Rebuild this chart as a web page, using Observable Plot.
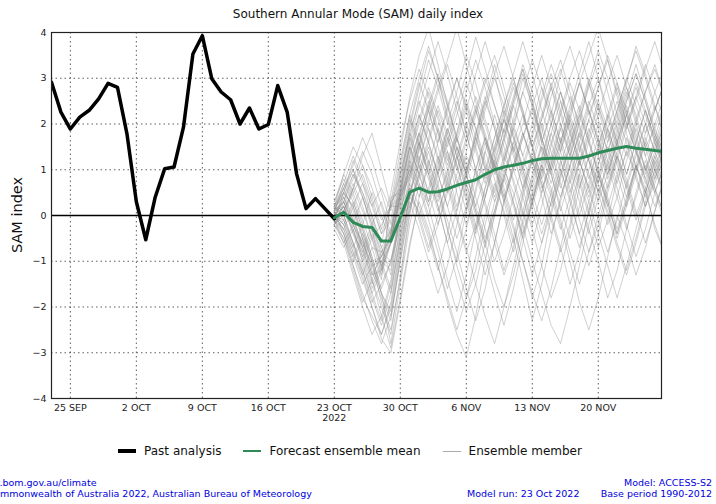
<!DOCTYPE html>
<html>
<head>
<meta charset="utf-8">
<script src="https://cdn.jsdelivr.net/npm/d3@7"></script>
<script src="https://cdn.jsdelivr.net/npm/@observablehq/plot@0.6"></script>
<style>
  body { margin:0; width:716px; height:504px; position:relative; background:#fff; font-family:"DejaVu Sans", sans-serif; overflow:hidden; }
  #title { position:absolute; top:7px; left:0; width:716px; text-align:center; font-size:12px; color:#111; }
  #chart { position:absolute; top:24px; left:0; }
  #ylabel { position:absolute; left:17px; top:215px; transform:translate(-50%,-50%) rotate(-90deg); font-size:14.5px; white-space:nowrap; color:#111; }
  #legend { position:absolute; top:444px; left:0; width:700px; display:flex; justify-content:center; align-items:center; font-size:12px; color:#111; }
  .item { display:flex; align-items:center; margin:0 11px; }
  .sw { display:inline-block; width:18px; margin-right:8px; }
  .foot { position:absolute; font-size:9.5px; color:#0000dd; white-space:nowrap; line-height:11px; }
</style>
</head>
<body>
<div id="title">Southern Annular Mode (SAM) daily index</div>
<div id="chart"></div>
<div id="ylabel">SAM index</div>
<div id="legend"></div>
<div class="foot" style="left:-23px; top:477px;">www.bom.gov.au/climate</div>
<div class="foot" style="left:-25px; top:488px;">© Commonwealth of Australia 2022, Australian Bureau of Meteorology</div>
<div class="foot" style="left:467px; top:488px;">Model run: 23 Oct 2022</div>
<div class="foot" style="right:4px; top:477px; text-align:right;">Model: ACCESS-S2</div>
<div class="foot" style="right:4px; top:488px; text-align:right;">Base period 1990-2012</div>
<script>
// ---- data ----
const pastStart = "2022-09-23";
const pastValues = [2.91, 2.26, 1.89, 2.15, 2.30, 2.55, 2.89, 2.80, 1.79, 0.30, -0.53, 0.40, 1.02, 1.06, 1.93, 3.53, 3.93, 2.99, 2.70, 2.53, 2.00, 2.35, 1.89, 1.99, 2.84, 2.26, 0.91, 0.15, 0.37, 0.15, -0.07];

const forecastStart = "2022-10-23";
const meanValues = [-0.05, 0.07, -0.15, -0.24, -0.26, -0.56, -0.56, -0.04, 0.51, 0.60, 0.51, 0.52, 0.58, 0.66, 0.72, 0.78, 0.90, 1.00, 1.06, 1.10, 1.14, 1.20, 1.24, 1.25, 1.25, 1.25, 1.25, 1.30, 1.37, 1.42, 1.47, 1.51, 1.47, 1.45, 1.42, 1.40];

const members = [
  [0.1,0.5,0.2,-0.4,-1.0,-0.9,-0.5,0.3,1.2,1.8,1.1,0.4,0.9,1.7,2.4,1.9,1.0,0.3,0.8,1.6,2.2,1.5,0.6,1.1,1.9,2.6,2.0,1.2,0.7,1.4,2.1,2.8,2.2,1.5,1.9,2.4],
  [-0.2,-0.5,-1.1,-1.8,-2.2,-2.6,-1.9,-0.6,0.4,0.1,-0.5,-1.2,-0.4,0.6,1.3,0.9,0.2,-0.6,-1.3,-0.7,0.4,1.2,0.7,-0.1,-0.8,-0.2,0.9,1.6,1.0,0.3,-0.5,0.2,1.1,0.6,-0.3,-0.8],
  [0.2,0.9,1.5,1.1,0.4,-0.3,0.5,1.6,2.5,3.2,2.6,1.9,1.2,1.8,2.7,3.4,2.8,2.0,1.3,2.1,3.0,2.4,1.6,2.2,3.1,3.7,3.0,2.2,2.8,3.5,2.9,2.0,2.6,3.3,2.7,2.1],
  [0.0,-0.3,-0.9,-1.5,-1.1,-1.0,-1.2,0.0,0.2,0.8,1.4,0.7,-0.3,-1.1,-1.8,-1.2,-0.2,0.6,1.3,0.8,0.1,-0.6,0.2,1.1,1.7,1.0,0.3,-0.4,0.4,1.2,0.6,-0.2,-0.9,-0.3,0.5,1.1],
  [-0.1,0.2,-0.4,-0.8,-0.3,-1.2,0.3,0.6,1.9,2.8,3.6,3.0,2.1,1.4,0.8,1.5,2.3,3.0,2.4,1.7,1.1,1.8,2.6,3.3,2.7,1.9,1.2,0.6,1.3,2.1,2.8,2.2,1.4,0.9,1.6,2.2],
  [0.3,0.8,0.4,-0.2,-0.9,-1.7,-2.8,-1.5,-0.2,0.7,0.2,-0.6,-1.4,-2.1,-1.3,-0.3,0.6,1.2,0.5,-0.2,-1.0,-1.8,-1.1,0.0,0.9,1.5,0.8,0.1,-0.7,-0.1,0.8,1.4,0.9,0.2,0.7,1.3],
  [-0.3,-0.1,0.6,1.3,1.8,1.0,0.2,0.9,1.7,1.1,0.3,1.0,1.8,2.5,1.8,1.0,0.4,1.1,1.9,2.6,3.2,2.5,1.7,1.0,1.6,2.4,3.1,3.8,3.0,2.1,1.5,2.2,2.9,2.3,1.6,1.0],
  [0.1,-0.4,-1.0,-0.5,-1.3,-1.2,-0.6,0.3,0.9,1.6,2.3,1.5,0.8,0.1,0.9,1.8,2.6,1.9,1.1,0.3,-0.5,0.3,1.2,2.0,2.7,2.0,1.2,0.5,1.1,1.9,2.5,1.8,1.0,1.6,2.3,2.9],
  [0.0,0.4,0.0,-0.7,-1.4,-2.2,-2.9,-1.8,-0.6,0.3,-0.3,-1.1,-1.9,-2.6,-3.1,-2.2,-1.0,0.0,0.8,0.2,-0.5,-1.3,-0.6,0.3,1.0,0.4,-0.4,-1.1,-0.4,0.5,1.2,0.6,-0.1,0.5,1.1,1.6],
  [-0.2,0.3,0.9,0.5,0.0,-0.6,0.3,1.4,2.6,3.5,4.1,3.3,2.4,1.6,2.3,3.1,3.8,3.1,2.2,1.4,2.0,2.8,3.5,2.8,2.0,1.3,2.0,2.9,3.6,3.0,2.2,2.9,3.7,3.1,2.4,1.8],
  [0.2,0.0,-0.6,-1.2,-1.9,-1.5,-1.0,0.0,0.5,1.3,0.8,0.1,0.7,1.5,0.9,0.2,-0.5,0.1,0.9,1.6,1.0,0.3,-0.4,0.3,1.1,1.8,2.4,1.7,0.9,0.2,0.9,1.7,1.1,0.4,1.0,1.6],
  [-0.1,-0.6,-0.2,0.4,-0.3,-1.0,-0.6,0.0,1.1,0.6,-0.1,-0.8,-1.6,-0.9,0.1,1.0,1.7,1.1,0.3,-0.5,-1.4,-2.3,-1.5,-0.5,0.4,1.1,0.5,-0.3,-1.0,-1.8,-1.2,-0.3,0.5,1.2,0.6,0.0],
  [0.1,0.6,1.1,1.7,1.2,0.5,-0.2,0.6,1.5,2.2,1.6,0.9,1.6,2.4,3.1,3.9,3.2,2.4,1.8,2.5,3.3,2.7,1.9,1.2,0.6,1.3,2.1,2.8,3.4,2.7,1.9,1.3,2.0,2.7,3.3,2.6],
  [0.0,-0.2,-0.8,-1.3,-0.7,-0.8,-1.0,-0.2,0.1,1.0,1.7,2.4,1.8,1.1,0.4,-0.4,0.4,1.3,2.1,1.4,0.6,1.2,2.0,1.4,0.7,0.0,-0.7,0.1,0.9,1.6,2.2,1.6,0.8,0.2,0.8,1.4],
  [-0.2,0.1,-0.3,-0.9,-1.6,-1.1,-0.4,0.7,1.8,1.2,0.5,-0.2,0.5,1.3,2.0,1.4,0.7,1.5,2.2,2.9,2.3,1.5,0.8,0.2,0.9,1.6,1.0,0.4,1.1,1.9,1.3,0.6,1.3,2.0,1.4,0.8],
  [0.2,0.7,0.3,-0.3,-1.0,-1.9,-2.5,-1.4,0.0,1.2,2.0,2.7,3.3,2.6,1.8,1.0,0.3,-0.4,-1.2,-0.5,0.5,1.3,0.7,0.0,-0.7,-1.5,-0.8,0.1,0.9,0.3,-0.4,0.3,1.1,0.5,-0.2,-0.8],
  [-0.1,0.2,0.7,0.2,-0.5,-0.2,0.2,0.2,1.3,2.1,2.8,2.2,1.5,2.2,2.9,2.3,1.6,0.9,1.6,2.4,1.8,1.1,1.8,2.6,3.2,2.5,1.7,2.4,3.0,2.3,1.6,0.9,1.6,2.3,1.7,1.1],
  [0.0,-0.4,-1.1,-1.7,-2.3,-2.8,-2.2,-1.0,0.3,-0.3,-1.0,-1.7,-1.1,-0.2,0.7,0.1,-0.6,-1.4,-2.0,-1.3,-0.4,0.4,1.1,0.5,-0.2,-1.0,-1.9,-2.5,-1.8,-0.9,0.0,-0.6,-1.3,-0.7,0.1,0.8],
  [0.3,0.9,0.5,0.9,0.3,-0.4,-0.1,1.0,2.1,1.5,2.3,3.0,2.4,1.7,1.0,1.7,2.5,1.9,1.2,1.9,2.7,3.4,2.8,2.0,1.4,2.1,2.9,2.3,1.6,1.0,1.7,2.5,3.1,2.5,1.8,1.2],
  [-0.3,-0.7,-0.3,-1.0,-1.7,-1.2,-0.5,0.4,1.0,0.4,1.1,1.9,1.3,0.5,-0.2,0.5,1.4,2.2,1.5,0.7,0.0,0.7,1.5,0.9,0.1,0.8,1.6,2.3,1.7,0.9,1.6,2.4,1.8,1.0,0.5,1.1],
  [0.1,0.3,-0.2,-0.6,-1.3,-0.9,-0.4,0.5,0.8,1.6,0.9,0.2,-0.6,0.1,1.0,1.8,2.5,3.3,2.6,1.8,1.0,0.3,1.0,1.8,2.5,1.8,1.1,1.7,2.4,1.8,1.1,0.4,1.1,1.8,2.4,1.7],
  [-0.1,0.5,1.2,0.7,0.0,-0.7,-0.3,0.5,1.0,1.8,1.2,0.5,-0.3,-1.0,-0.3,0.6,1.4,0.8,0.0,-0.8,-0.1,0.8,1.6,2.3,1.6,0.8,0.0,0.7,1.5,2.2,2.9,2.3,1.5,0.8,1.4,2.0],
  [0.0,-0.3,0.2,-0.5,-1.1,-0.9,-1.1,0.0,0.4,1.5,2.4,3.1,2.5,1.7,0.9,0.2,0.9,1.7,2.4,3.0,2.3,1.5,0.8,1.5,2.3,3.0,3.6,2.9,2.1,1.4,2.0,2.7,2.0,1.3,2.0,2.6],
  [0.2,-0.1,-0.7,-0.2,0.5,-0.1,0.2,0.4,1.5,0.9,0.2,0.9,1.7,1.1,0.3,-0.5,-1.3,-0.6,0.3,1.1,1.8,1.2,0.4,-0.4,0.3,1.1,1.8,1.2,0.5,-0.2,0.4,1.2,1.9,1.3,0.6,0.0],
  [-0.2,0.0,-0.6,-1.3,-2.0,-2.7,-3.0,-1.9,-0.7,0.4,1.2,0.6,-0.1,-0.8,-1.6,-2.3,-1.6,-0.6,0.3,1.0,0.4,-0.3,-1.1,-1.8,-1.2,-0.3,0.6,1.3,0.7,0.0,-0.7,-1.3,-0.6,0.2,0.9,1.5],
  [0.1,0.6,1.0,0.4,-0.2,0.3,-0.4,0.8,2.0,2.9,2.3,1.6,2.3,3.0,2.4,1.7,1.0,1.7,2.4,3.1,3.8,3.1,2.3,1.6,2.2,2.9,2.3,1.6,2.2,2.9,3.5,2.8,2.1,2.7,3.2,2.6],
  [0.0,0.2,-0.4,-1.0,-0.5,-1.3,-0.6,0.2,0.6,0.0,-0.7,0.0,0.8,1.5,0.9,0.1,-0.6,0.1,0.9,0.3,-0.4,0.3,1.1,1.8,1.2,0.5,1.2,1.9,1.3,0.6,1.3,2.0,1.4,0.7,1.3,1.9],
  [-0.1,-0.5,-1.2,-1.9,-1.4,-0.8,-0.5,0.4,0.9,1.7,2.5,1.8,1.0,0.2,0.9,1.7,1.1,0.4,1.1,1.9,1.3,2.0,2.8,2.2,1.4,0.7,1.4,2.1,1.5,0.8,1.4,2.2,2.8,2.2,1.6,1.0],
  [0.2,0.4,-0.1,-0.7,-1.4,-2.0,-2.6,-1.3,0.1,0.9,0.3,1.1,1.9,1.3,0.5,-0.3,0.4,1.2,1.9,1.3,0.6,-0.2,0.5,1.3,2.0,1.4,0.7,0.0,0.8,1.5,0.9,0.2,0.9,1.6,1.0,0.4],
  [-0.1,0.1,0.5,-0.1,-0.7,-1.4,0.4,0.5,1.7,2.6,3.4,2.8,2.0,2.7,3.5,2.9,2.1,1.4,2.1,2.8,2.2,1.5,2.2,2.9,2.3,1.6,2.3,3.0,2.4,1.7,2.3,3.0,2.4,1.8,2.3,2.9],
  [0.0,0.3,0.8,1.4,0.9,0.2,-0.5,0.4,1.3,2.0,2.7,2.1,1.4,0.7,1.4,2.2,2.9,3.5,2.8,2.0,1.3,0.6,1.3,2.0,2.7,2.1,1.4,2.1,2.8,3.4,2.7,2.0,1.4,2.0,2.7,3.2],
  [-0.2,-0.6,-1.3,-2.0,-2.6,-2.2,-1.4,-0.3,0.8,1.5,0.9,0.2,-0.6,-1.4,-2.1,-1.5,-0.6,0.3,1.0,0.5,-0.2,-1.0,-1.7,-2.4,-2.8,-2.0,-1.1,-0.2,0.6,0.1,-0.6,-1.2,-0.5,0.3,1.0,0.5],
  [0.1,0.2,-0.3,-0.9,-0.4,-1.1,-1.7,-0.5,0.7,1.4,2.1,2.8,3.4,4.1,3.3,2.5,1.7,1.0,1.7,2.5,3.2,2.5,1.7,1.0,0.4,1.1,1.8,2.5,1.9,1.2,1.9,2.6,3.3,2.6,1.9,1.3],
  [0.0,-0.2,0.3,-0.3,-0.9,-1.6,-1.0,0.1,1.2,0.7,0.0,0.7,1.4,0.8,0.1,0.8,1.6,1.0,0.3,1.0,1.7,2.3,1.6,0.9,1.5,2.2,1.6,0.9,0.3,0.9,1.6,2.2,1.6,1.0,1.5,2.1],
  [0.2,0.6,0.1,-0.5,-1.2,-1.8,-2.3,-0.9,0.5,1.1,0.5,1.2,1.9,1.3,0.6,-0.2,-0.9,-1.7,-2.4,-1.6,-0.6,0.3,1.0,0.4,-0.3,0.4,1.2,0.6,-0.1,-0.8,-0.1,0.7,1.4,0.8,0.2,0.8],
  [-0.1,0.4,0.9,0.4,-0.2,-0.8,-0.3,0.9,1.8,2.5,1.9,1.2,0.5,1.2,1.9,2.6,2.0,1.3,0.6,-0.1,0.6,1.4,2.1,2.8,3.4,2.7,1.9,1.2,0.5,1.1,1.8,2.5,3.1,2.5,1.8,1.2],
  [0.1,-0.2,-0.7,-1.2,-1.8,-2.4,-1.7,-0.5,0.6,0.0,0.6,1.3,0.7,0.0,-0.7,-1.5,-2.2,-2.8,-2.0,-1.1,-0.2,0.5,1.1,0.6,-0.1,-0.8,-1.5,-0.8,0.0,0.7,1.3,0.8,0.1,-0.6,0.1,0.8],
  [-0.2,0.1,0.6,1.1,0.6,0.0,-0.6,0.5,1.6,2.4,3.1,3.8,3.1,2.3,1.6,2.3,3.0,2.4,1.7,1.0,1.7,2.4,3.0,2.3,1.6,2.2,2.9,3.5,4.1,3.4,2.6,1.9,2.5,3.2,3.8,3.1],
  [0.0,0.3,-0.2,-0.8,-1.5,-1.0,-1.6,-0.4,0.7,0.2,-0.4,-1.1,-1.8,-2.5,-1.8,-0.9,0.0,0.7,0.1,-0.6,0.1,0.9,1.5,0.9,0.2,-0.5,0.2,1.0,1.7,1.1,0.4,-0.3,0.4,1.1,0.5,-0.1],
  [0.2,0.5,1.0,0.5,-0.1,-0.7,-1.3,0.0,1.1,1.8,2.4,1.8,1.1,1.8,2.5,1.9,1.2,0.5,1.2,2.0,2.7,2.1,1.4,0.7,1.4,2.1,1.5,0.8,1.5,2.2,1.6,0.9,1.6,2.3,1.7,1.1],
  [-0.1,-0.4,-0.9,-0.4,-1.0,-1.7,-2.1,-0.8,0.4,1.2,1.9,1.3,0.6,-0.1,-0.8,-0.2,0.6,1.4,2.1,1.5,0.8,0.1,-0.6,0.1,0.8,1.5,2.2,1.6,0.9,0.2,-0.4,0.3,1.0,1.7,1.1,0.5],
  [0.1,0.7,1.3,0.8,0.2,0.6,0.1,1.1,2.2,3.0,3.7,3.0,2.2,1.5,0.9,1.6,2.4,3.1,3.7,3.0,2.2,1.5,2.1,2.8,2.2,1.5,2.2,2.9,2.3,1.6,2.3,3.0,3.6,3.0,2.3,2.9],
  [0.0,-0.1,-0.6,-1.1,-1.7,-2.3,-1.5,-0.2,0.9,1.6,1.0,0.3,1.0,1.7,1.1,0.4,-0.3,-1.0,-0.4,0.4,1.1,0.5,-0.2,0.5,1.2,0.6,-0.1,-0.8,-0.2,0.6,1.3,0.7,0.0,0.6,1.3,0.7],
  [-0.2,0.2,-0.2,-0.7,-0.2,-0.9,-0.4,0.6,1.5,0.9,1.6,2.3,1.7,1.0,1.7,2.4,1.8,1.1,0.4,1.1,1.8,1.2,0.5,1.2,1.9,1.3,0.6,1.3,2.0,1.4,0.7,1.4,2.1,1.5,0.8,1.5],
  [0.1,0.3,-0.1,-0.6,-1.1,-1.7,-2.2,-1.0,0.2,0.9,1.5,0.9,0.2,-0.5,0.2,1.0,1.7,1.1,0.4,-0.3,-1.0,-1.7,-2.3,-1.6,-0.7,0.2,0.9,0.3,-0.4,-1.1,-1.8,-1.1,-0.3,0.5,1.2,0.6],
  [0.0,0.5,0.2,0.7,0.2,-0.4,0.2,1.2,2.2,1.6,0.9,1.6,2.4,3.0,2.3,1.5,0.8,1.5,2.3,1.7,1.0,1.7,2.5,3.1,2.5,1.8,1.1,1.8,2.5,1.9,1.2,1.9,2.6,2.0,1.4,2.0],
  [-0.1,-0.3,-0.8,-1.4,-2.0,-2.6,-2.0,-0.7,0.5,-0.1,-0.8,-0.2,0.6,1.3,0.7,0.0,-0.7,0.0,0.8,1.5,0.9,0.2,0.9,1.6,1.0,0.3,-0.4,0.3,1.0,0.4,-0.3,0.4,1.1,0.5,1.2,1.8],
  [0.2,0.1,0.6,0.1,-0.5,-1.1,-0.6,0.5,1.4,2.2,1.6,0.9,0.2,0.9,1.6,2.3,1.7,1.0,1.7,2.4,3.1,2.4,1.7,1.0,1.6,2.3,2.9,2.3,1.6,0.9,1.6,2.3,1.7,1.0,1.7,2.4]
];

const xTicks = ["2022-09-25", "2022-10-02", "2022-10-09", "2022-10-16", "2022-10-23", "2022-10-30", "2022-11-06", "2022-11-13", "2022-11-20"];
const xTickLabels = ["25 SEP", "2 OCT", "9 OCT", "16 OCT", "23 OCT\n2022", "30 OCT", "6 NOV", "13 NOV", "20 NOV"];
const yTicks = [-4, -3, -2, -1, 0, 1, 2, 3, 4];
const xDomain = ["2022-09-23T00:00Z", "2022-11-26T17:00Z"];

// ---- build tables ----
const day = (start, i) => d3.utcDay.offset(new Date(start + "T00:00Z"), i);
const pastRows = pastValues.map((v, i) => ({date: day(pastStart, i), value: v}));
const meanRows = meanValues.map((v, i) => ({date: day(forecastStart, i), value: v}));
const memberRows = members.flatMap((vals, m) => vals.map((v, i) => ({member: m, date: day(forecastStart, i), value: v})));
const tickDates = xTicks.map(s => new Date(s + "T00:00Z"));
const labelMap = new Map(tickDates.map((d, i) => [+d, xTickLabels[i]]));
const fmtY = d => (d < 0 ? "\u2212" + Math.abs(d) : String(d));

const chart = Plot.plot({
  width: 716,
  height: 404,
  marginTop: 8,
  marginLeft: 51,
  marginRight: 55,
  marginBottom: 30,
  style: {fontFamily: "DejaVu Sans", fontSize: "9.5px", color: "#222", background: "#fff", overflow: "visible"},
  x: {type: "utc", domain: xDomain.map(s => new Date(s))},
  y: {domain: [-4, 4]},
  marks: [
    Plot.ruleX(tickDates, {stroke: "#444", strokeOpacity: 0.85, strokeDasharray: "1.5,3"}),
    Plot.ruleY(yTicks.filter(d => d !== 0 && Math.abs(d) !== 4), {stroke: "#444", strokeOpacity: 0.85, strokeDasharray: "1.5,3"}),
    Plot.line(memberRows, {x: "date", y: "value", z: "member", stroke: "#8a8a8a", strokeOpacity: 0.4, strokeWidth: 1, clip: true}),
    Plot.ruleY([0], {stroke: "#000", strokeWidth: 1.5}),
    Plot.line(pastRows, {x: "date", y: "value", stroke: "#000", strokeWidth: 3.5, clip: true}),
    Plot.line(meanRows, {x: "date", y: "value", stroke: "#2e8b57", strokeWidth: 3, clip: true}),
    Plot.frame({stroke: "#222", strokeWidth: 1.2}),
    Plot.axisX({ticks: tickDates, tickFormat: d => labelMap.get(+d), tickSize: 0, tickPadding: 6, label: null}),
    Plot.axisY({ticks: yTicks, tickFormat: fmtY, tickSize: 0, tickPadding: 5, label: null})
  ]
});
document.getElementById("chart").appendChild(chart);

// ---- legend ----
const legendItems = [
  {label: "Past analysis", color: "#000", width: 3.5},
  {label: "Forecast ensemble mean", color: "#2e8b57", width: 2.5},
  {label: "Ensemble member", color: "#aaa", width: 1}
];
const legend = document.getElementById("legend");
for (const it of legendItems) {
  const item = document.createElement("div");
  item.className = "item";
  const sw = document.createElement("span");
  sw.className = "sw";
  sw.style.height = it.width + "px";
  sw.style.background = it.color;
  const tx = document.createElement("span");
  tx.textContent = it.label;
  item.appendChild(sw);
  item.appendChild(tx);
  legend.appendChild(item);
}
</script>
</body>
</html>
